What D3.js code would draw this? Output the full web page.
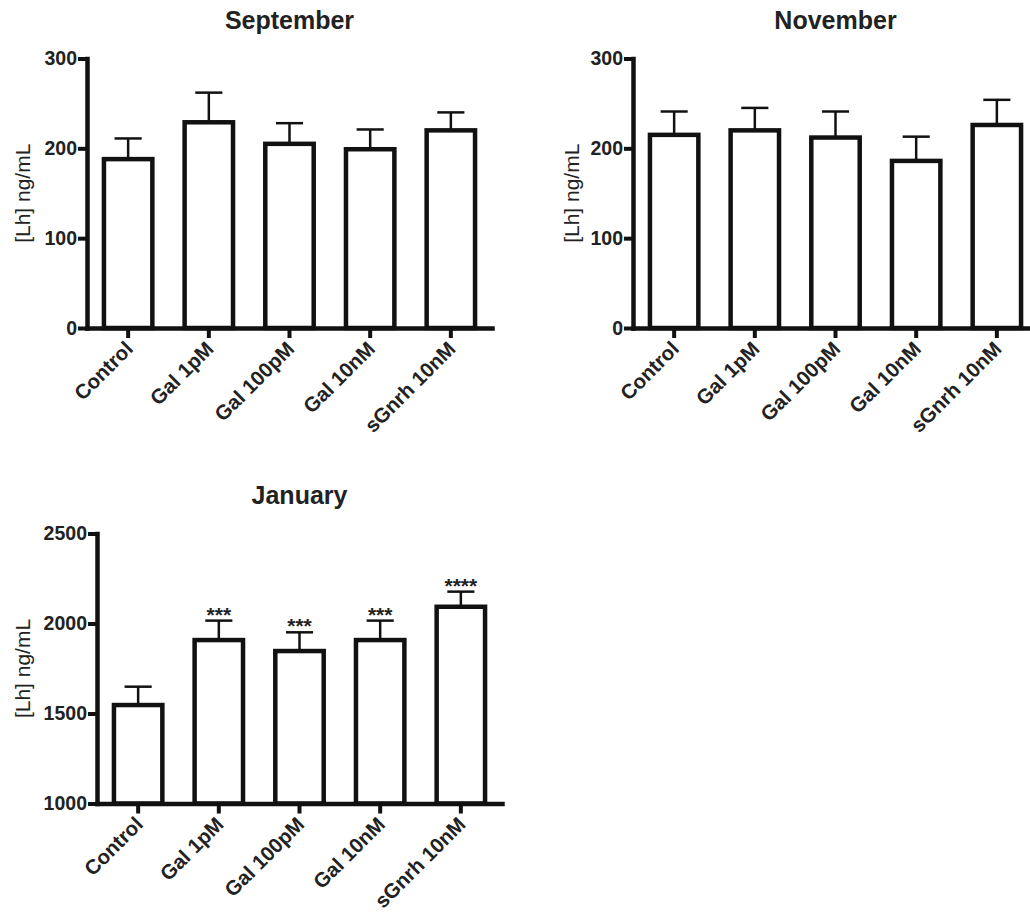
<!DOCTYPE html>
<html>
<head>
<meta charset="utf-8">
<script src="https://cdn.jsdelivr.net/npm/d3@7"></script>
<style>
  html, body { margin: 0; padding: 0; background: #fff; }
  svg { display: block; }
  text { font-family: "Liberation Sans", Arial, Helvetica, sans-serif; fill: #222; }
</style>
</head>
<body>
<svg id="chart" width="1030" height="913"></svg>
<script>
// Treatment groups (shared by all three months)
const groups = ["Control", "Gal 1pM", "Gal 100pM", "Gal 10nM", "sGnrh 10nM"];

// September: mean LH and SEM (ng/mL)
const sepMean = [188, 229, 205, 199, 220];
const sepSem  = [23, 33, 23, 22, 20];

// November
const novMean = [215, 220, 212, 186, 226];
const novSem  = [26, 25, 29, 27, 28];

// January
const janMean  = [1547, 1908, 1847, 1908, 2093];
const janSem   = [102, 108, 104, 108, 84];
const janStars = ["", "***", "***", "***", "****"];

// Axis ticks
const smallTicks = [0, 100, 200, 300];
const janTicks   = [1000, 1500, 2000, 2500];

const yLabel = "[Lh] ng/mL";

const svg = d3.select("#chart");

function drawPanel(p) {
  const g = svg.append("g");

  const x = d3.scaleBand()
    .domain(groups)
    .range([p.x0, p.x1])
    .paddingInner(0.4)
    .paddingOuter(0.21);

  const y = d3.scaleLinear()
    .domain(p.domain)
    .range([p.yBot, p.yTop]);

  const bw = x.bandwidth();
  const capW = bw * 0.56;

  // title
  g.append("text")
    .attr("x", (p.x0 + p.x1) / 2)
    .attr("y", p.yTop - 30)
    .attr("text-anchor", "middle")
    .style("font-size", "25px")
    .style("font-weight", "bold")
    .text(p.title);

  const rows = groups.map((name, i) => ({
    name, mean: p.mean[i], sem: p.sem[i], star: p.stars ? p.stars[i] : ""
  }));

  // error bars (upper only)
  const eb = g.append("g").attr("stroke", "#111").attr("stroke-width", 2.5).attr("fill", "none");
  eb.selectAll("line.v").data(rows).join("line")
    .attr("class", "v")
    .attr("x1", d => x(d.name) + bw / 2).attr("x2", d => x(d.name) + bw / 2)
    .attr("y1", d => y(d.mean)).attr("y2", d => y(d.mean + d.sem));
  eb.selectAll("line.cap").data(rows).join("line")
    .attr("class", "cap")
    .attr("x1", d => x(d.name) + bw / 2 - capW / 2).attr("x2", d => x(d.name) + bw / 2 + capW / 2)
    .attr("y1", d => y(d.mean + d.sem)).attr("y2", d => y(d.mean + d.sem));

  // bars
  g.append("g").selectAll("rect").data(rows).join("rect")
    .attr("x", d => x(d.name))
    .attr("y", d => y(d.mean))
    .attr("width", bw)
    .attr("height", d => y(p.domain[0]) - y(d.mean))
    .attr("fill", "#fff")
    .attr("stroke", "#111")
    .attr("stroke-width", 4.5);

  // significance markers
  g.append("g").selectAll("text").data(rows.filter(d => d.star)).join("text")
    .attr("x", d => x(d.name) + bw / 2)
    .attr("y", d => y(d.mean + d.sem) + 1)
    .attr("text-anchor", "middle")
    .style("font-size", "21px")
    .style("font-weight", "bold")
    .attr("fill", "#333")
    .text(d => d.star);

  // y axis
  const ya = g.append("g")
    .attr("transform", `translate(${p.x0},0)`)
    .call(d3.axisLeft(y).tickValues(p.ticks).tickFormat(d3.format("d"))
      .tickSize(9).tickSizeOuter(0).tickPadding(1));
  ya.select(".domain").attr("stroke", "#111").attr("stroke-width", 4.5).attr("stroke-linecap", "square");
  ya.selectAll(".tick line").attr("stroke", "#111").attr("stroke-width", 4);
  ya.selectAll(".tick text")
    .style("font-size", "19.5px").style("font-weight", "bold")
    .style("font-family", "'Liberation Sans', Arial, sans-serif")
    .attr("fill", "#222");

  // x axis
  const xa = g.append("g")
    .attr("transform", `translate(0,${p.yBot})`)
    .call(d3.axisBottom(x).tickSize(10).tickSizeOuter(0).tickFormat(""));
  xa.select(".domain").attr("stroke", "#111").attr("stroke-width", 4.5).attr("stroke-linecap", "square");
  xa.selectAll(".tick line").attr("stroke", "#111").attr("stroke-width", 4);

  // rotated category labels
  g.append("g").selectAll("text").data(groups).join("text")
    .attr("transform", d => `translate(${x(d) + bw / 2 + 1},${p.yBot + 17}) rotate(-45)`)
    .attr("dy", "0.35em")
    .attr("text-anchor", "end")
    .style("font-size", "20.5px")
    .style("font-weight", "bold")
    .text(d => d);

  // y axis title
  g.append("text")
    .attr("transform", `translate(${p.labelX},${(p.yTop + p.yBot) / 2}) rotate(-90)`)
    .attr("dy", "0.35em")
    .attr("text-anchor", "middle")
    .style("font-size", "21px")
    .attr("fill", "#333")
    .text(yLabel);
}

drawPanel({ title: "September", mean: sepMean, sem: sepSem, domain: [0, 300], ticks: smallTicks,
            x0: 87, x1: 492, yTop: 58.5, yBot: 328, labelX: 23 });
drawPanel({ title: "November", mean: novMean, sem: novSem, domain: [0, 300], ticks: smallTicks,
            x0: 633, x1: 1038, yTop: 58.5, yBot: 328, labelX: 572 });
drawPanel({ title: "January", mean: janMean, sem: janSem, stars: janStars, domain: [1000, 2500], ticks: janTicks,
            x0: 97, x1: 502, yTop: 533.5, yBot: 803.5, labelX: 23 });
</script>
</body>
</html>
